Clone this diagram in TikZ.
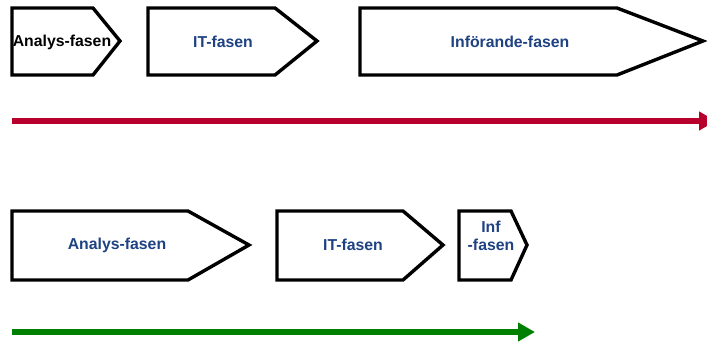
\documentclass[tikz,border=0pt]{standalone}
\usepackage{fontspec}
\setmainfont{Liberation Sans}
\usetikzlibrary{arrows.meta}
\definecolor{phaseblue}{RGB}{31,66,130}
\definecolor{timered}{RGB}{184,0,44}
\definecolor{timegreen}{RGB}{0,128,0}
\tikzset{
  phase/.style={draw=black, line width=3.4pt, fill=white, line join=miter},
  lbl/.style={font=\fontsize{15.8}{18.5}\selectfont\bfseries, text=phaseblue, inner sep=0pt, align=center},
  timeline/.style={line width=6pt, -{Triangle[length=17pt,width=18pt]}}
}
\begin{document}
\begin{tikzpicture}[x=1pt,y=-1pt]
\useasboundingbox (0,0) rectangle (707,343);
\clip (0,0) rectangle (707,343);

% upper plan
\draw[phase] (12,8) -- (93,8) -- (120,41) -- (93,75) -- (12,75) -- cycle;
\node[lbl, text=black] (a1) at (62,42) {Analys-fasen};
\draw[phase] (148,8) -- (275,8) -- (317,41) -- (275,75) -- (148,75) -- cycle;
\node[lbl] (i1) at (223,42) {IT-fasen};
\draw[phase] (360,8) -- (617,8) -- (703,41) -- (617,75) -- (360,75) -- cycle;
\node[lbl] (f1) at (510,42) {Införande-fasen};

\coordinate (r0) at (12,121);
\coordinate (r1) at (716,121);
\draw[timeline, draw=timered, fill=timered] (r0) -- (r1);

% lower plan
\draw[phase] (12,211) -- (188,211) -- (249,245) -- (188,280) -- (12,280) -- cycle;
\node[lbl] (a2) at (117,245) {Analys-fasen};
\draw[phase] (277,211) -- (403,211) -- (443,245) -- (403,280) -- (277,280) -- cycle;
\node[lbl] (i2) at (353,245) {IT-fasen};
\draw[phase] (459,211) -- (511,211) -- (527,245) -- (511,280) -- (459,280) -- cycle;
\node[lbl] (f2) at (491,236) {Inf\\-fasen};

\coordinate (g0) at (12,332);
\coordinate (g1) at (535,332);
\draw[timeline, draw=timegreen, fill=timegreen] (g0) -- (g1);
\end{tikzpicture}
\end{document}
